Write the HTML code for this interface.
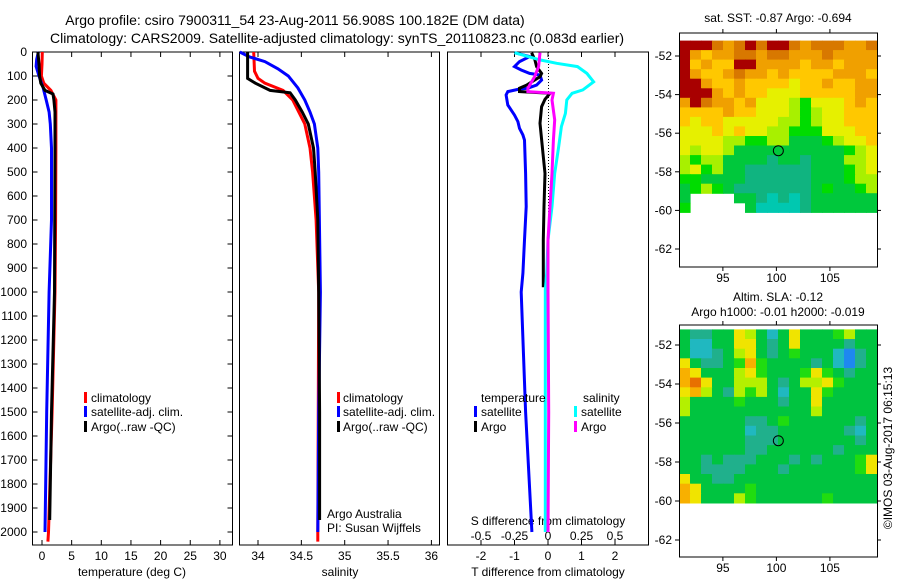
<!DOCTYPE html>
<html><head><meta charset="utf-8">
<style>
html,body{margin:0;padding:0;background:#fff;}
svg{display:block;font-family:"Liberation Sans",sans-serif;}
text{font-size:12px;fill:#000;}
</style></head>
<body>
<svg id="chart" width="900" height="580" viewBox="0 0 900 580" xmlns="http://www.w3.org/2000/svg">
<text x="295" y="25" text-anchor="middle" style="font-size:14px">Argo profile: csiro 7900311_54 23-Aug-2011 56.908S 100.182E (DM data)</text>
<text x="337" y="43" text-anchor="middle" style="font-size:14px">Climatology: CARS2009. Satellite-adjusted climatology: synTS_20110823.nc (0.083d earlier)</text>
<g id="layer"></g>
</svg>
<script>
// ---------- data ----------
const tClimDepth = [0,50,100,130,160,200,400,700,1000,1500,2000,2040];
const tClimVal   = [0.05,0.0,-0.1,0.3,1.5,2.35,2.35,2.3,2.2,1.7,1.1,1.0];
const tSatDepth  = [0,30,60,100,150,200,250,300,400,700,1000,1500,2000];
const tSatVal    = [-0.6,-0.9,-1.0,-0.5,0.2,0.7,1.2,1.4,1.6,1.6,1.2,0.8,0.5];
const tArgoDepth = [0,50,100,130,160,175,200,250,400,1000,1500,1950];
const tArgoVal   = [-0.69,-0.5,-0.4,-0.2,0.5,1.85,2.0,2.2,2.2,2.1,1.6,1.3];

const sClimDepth = [0,80,110,130,160,200,300,400,500,700,1000,2000,2040];
const sClimVal   = [33.95,33.96,34.0,34.08,34.29,34.4,34.54,34.6,34.63,34.67,34.7,34.69,34.69];
const sSatDepth  = [0,20,40,70,100,150,200,250,300,400,500,1000,1500,2000];
const sSatVal    = [33.79,33.9,34.08,34.23,34.35,34.46,34.54,34.6,34.65,34.69,34.70,34.72,34.70,34.69];
const sArgoDepth = [0,110,130,160,170,200,250,300,400,500,700,1000,1500,1950];
const sArgoVal   = [33.88,33.88,33.97,34.14,34.37,34.43,34.51,34.58,34.64,34.66,34.69,34.70,34.71,34.71];

const dTSatDepth = [3,19,40,61,75,89,96,117,138,151,156,165,179,221,263,290,318,346,367,506,644,783,922,1000,1500,2000];
const dTSatVal   = [-1.0,-0.55,-0.85,-1.0,-0.8,-0.55,-0.24,-0.19,-0.34,-0.6,-0.9,-1.2,-1.25,-1.2,-1.0,-0.9,-0.85,-0.75,-0.7,-0.67,-0.65,-0.7,-0.75,-0.8,-0.67,-0.48];
const dTArgoDepth = [3,33,61,89,103,138,151,165,172,197,228,297,436,506,644,783,980];
const dTArgoVal   = [-0.49,-0.39,-0.34,-0.19,-0.24,-0.64,-0.85,-0.85,0.06,-0.09,-0.19,-0.24,-0.14,-0.09,-0.12,-0.14,-0.14];
const dSSatDepth = [3,33,47,61,89,124,158,172,200,256,311,394,506,644,783,922,992,1500,2000];
const dSSatVal   = [-0.25,-0.06,0.065,0.22,0.29,0.34,0.26,0.18,0.14,0.13,0.10,0.08,0.05,0.03,0.0,-0.01,-0.02,-0.02,-0.02];
const dSArgoDepth = [3,61,103,151,165,172,200,283,367,506,644,783,992,1500,2000];
const dSArgoVal   = [-0.06,-0.07,-0.1,-0.15,-0.15,0.04,0.03,0.05,0.04,0.03,0.015,0.0,0.0,0.005,0.0];

const depthTicks = [0,100,200,300,400,500,600,700,800,900,1000,1100,1200,1300,1400,1500,1600,1700,1800,1900,2000];
const tTicks = [0,5,10,15,20,25,30];
const sTicks = [34,34.5,35,35.5,36];
const sTickLabels = ["34","34.5","35","35.5","36"];
const dTTicks = [-2,-1,0,1,2];
const dSTicks = [-0.5,-0.25,0,0.25,0.5];
const dSTickLabels = ["-0.5","-0.25","0","0.25","0.5"];

// maps: lon 91..109 (18 cols), lat -51.2..-60.1 (18 rows)
const sstRows = [
"999878989987888778","976778878877787777","967669977776776777","976678776766667776",
"997667666656676677","999767665556666677","798776755543555676","666676655543455666",
"656655555443455666","555656554433355566","555544334422234556","545542222222222345",
"434422221221222445","453422111111222345","332222111111222344","234321111111232234",
"2----22101012222223","3-----200001222222"];
const slaRows = [
"322336531363334533","311336632363333233","311235632343331023","632234743333231023",
"763335643334643233","786335553235564333","675325453133643333","533334333233633333",
"533333333333533333","333333223433333323","333333122333333213","333333222333333323",
"333333223333332333","332322233323233346","332222333233333346","633223333333333333",
"763333433333333333","763335433333343333"];
const mapLonTicks = [95,100,105];
const mapLatTicks = [-52,-54,-56,-58,-60,-62];
const argoLon = 100.182, argoLat = -56.908;

// ---------- helpers ----------
const NS = "http://www.w3.org/2000/svg";
const layer = document.getElementById('layer');
function mk(tag, attrs, parent){
  const e = document.createElementNS(NS, tag);
  for (const k in attrs) e.setAttribute(k, attrs[k]);
  (parent||layer).appendChild(e);
  return e;
}
const yD = d => 52 + d*0.24;
const xT = t => 42 + t*5.93;
const xS = s => 258 + (s-34)*86.7;
const xDT = v => 548 + v*33.5;
const xDS = v => 548 + v*134;

function line(depths, vals, xf, color, name){
  const pts = depths.map((d,i)=> xf(vals[i]).toFixed(1)+','+yD(d).toFixed(1)).join(' ');
  const p = mk('polyline',{points:pts, fill:'none', stroke:color, 'stroke-width':3, 'stroke-linejoin':'miter'});
  
  
}
function txt(x,y,s,anchor,name,size){
  const t = mk('text',{x:x,y:y,'text-anchor':anchor||'start'});
  if(size) t.style.fontSize = size+'px';
  t.textContent = s;
  
  
  return t;
}
function rect(x,y,w,h,fill,name){
  const r = mk('rect',{x:x,y:y,width:w,height:h,fill:fill});
  
  
  return r;
}
function frame(x0,y0,x1,y1,name){
  const r = mk('rect',{x:x0,y:y0,width:x1-x0,height:y1-y0,fill:'none',stroke:'#000','stroke-width':1});
  
  
}
function tick(x1,y1,x2,y2){
  const l = mk('line',{x1:x1,y1:y1,x2:x2,y2:y2,stroke:'#000','stroke-width':1});
  
  
}
const TOP=52, BOT=545;

// ---------- panel 1: temperature ----------
frame(32.5,TOP,232.5,BOT,'temperature-panel');
depthTicks.forEach(d=>{
  tick(32.5,yD(d),37.5,yD(d)); tick(227.5,yD(d),232.5,yD(d));
  txt(27,yD(d)+4,String(d),'end','depth-tick-label');
});
tTicks.forEach(t=>{
  tick(xT(t),TOP,xT(t),TOP+5); tick(xT(t),BOT,xT(t),BOT-5);
  txt(xT(t),560,String(t),'middle','temperature-tick-label');
});
txt(132,576,'temperature (deg C)','middle','temperature-axis-title');
line(tClimDepth,tClimVal,xT,'#ff0000','temp-climatology-line');
line(tSatDepth,tSatVal,xT,'#0000ff','temp-satellite-line');
line(tArgoDepth,tArgoVal,xT,'#000000','temp-argo-line');
[['#ff0000','climatology',402],['#0000ff','satellite-adj. clim.',416],['#000000','Argo(..raw -QC)',431]].forEach(l=>{
  rect(84,l[2]-10,3,11,l[0],'legend-swatch');
  txt(91,l[2],l[1],'start','legend-entry');
});

// ---------- panel 2: salinity ----------
frame(239.5,TOP,439.5,BOT,'salinity-panel');
sTicks.forEach((s,i)=>{
  tick(xS(s),TOP,xS(s),TOP+5); tick(xS(s),BOT,xS(s),BOT-5);
  txt(xS(s),560,sTickLabels[i],'middle','salinity-tick-label');
});
txt(340,576,'salinity','middle','salinity-axis-title');
line(sClimDepth,sClimVal,xS,'#ff0000','sal-climatology-line');
line(sSatDepth,sSatVal,xS,'#0000ff','sal-satellite-line');
line(sArgoDepth,sArgoVal,xS,'#000000','sal-argo-line');
[['#ff0000','climatology',402],['#0000ff','satellite-adj. clim.',416],['#000000','Argo(..raw -QC)',431]].forEach(l=>{
  rect(337,l[2]-10,3,11,l[0],'legend-swatch');
  txt(343,l[2],l[1],'start','legend-entry');
});
txt(327,518,'Argo Australia','start','credit-argo-australia');
txt(327,532,'PI: Susan Wijffels','start','credit-pi');

// ---------- panel 3: differences ----------
frame(447.5,TOP,648.5,BOT,'difference-panel');
dTTicks.forEach(v=>{
  tick(xDT(v),TOP,xDT(v),TOP+5); tick(xDT(v),BOT,xDT(v),BOT-5);
  txt(xDT(v),560,String(v),'middle','t-diff-tick-label');
});
dSTicks.forEach((v,i)=> txt(xDS(v),540,dSTickLabels[i],'middle','s-diff-tick-label'));
txt(548,576,'T difference from climatology','middle','t-diff-axis-title');
txt(548,525,'S difference from climatology','middle','s-diff-axis-title');
{const z = mk('line',{x1:548.5,y1:TOP,x2:548.5,y2:340,stroke:'#000','stroke-width':1,'stroke-dasharray':'1,2'});
  }
line(dTSatDepth,dTSatVal,xDT,'#0000ff','t-diff-satellite-line');
line(dTArgoDepth,dTArgoVal,xDT,'#000000','t-diff-argo-line');
line(dSSatDepth,dSSatVal,xDS,'#00ffff','s-diff-satellite-line');
line(dSArgoDepth,dSArgoVal,xDS,'#ff00ff','s-diff-argo-line');
txt(481,402,'temperature','start','legend-header-temperature');
txt(583,402,'salinity','start','legend-header-salinity');
[['#0000ff','satellite',474,416],['#000000','Argo',474,431],['#00ffff','satellite',574,416],['#ff00ff','Argo',574,431]].forEach(l=>{
  rect(l[2],l[3]-10,3,11,l[0],'legend-swatch');
  txt(l[2]+7,l[3],l[1],'start','legend-entry');
});

// ---------- maps ----------
const sstPal = {'0':'#00c8b0','1':'#10b480','2':'#00c83c','3':'#00dc00','4':'#a8f000','5':'#e6f000','6':'#ffc800','7':'#f0a000','8':'#d87800','9':'#a80000'};
const slaPal = {'0':'#1e88f0','1':'#20b8c0','2':'#20b08c','3':'#00c440','4':'#20dc10','5':'#b4f000','6':'#f0e400','7':'#f8b000','8':'#e87000'};
const LON0=90.9, LON1=109.4, MX0=679, MX1=877;
const xLon = lon => MX0 + (lon-LON0)*(MX1-MX0)/(LON1-LON0);
function drawMap(rows, pal, yLat, top, bottom, name){
  const dataTop = -51.2, dataBot = -60.1;
  const nR = rows.length, nC = rows[0].length;
  const dLat = (dataTop-dataBot)/nR, dLon = (LON1-LON0)/nC;
  rows.forEach((row,r)=>{
    for(let c=0;c<nC;c++){
      const ch=row[c]; if(ch==='-') continue;
      const x0=xLon(LON0+c*dLon), x1=xLon(LON0+(c+1)*dLon);
      const y0=yLat(dataTop-r*dLat), y1=yLat(dataTop-(r+1)*dLat);
      const cell = mk('rect',{x:x0.toFixed(1),y:y0.toFixed(1),width:(x1-x0+0.6).toFixed(1),height:(y1-y0+0.6).toFixed(1),fill:pal[ch]});
      
      
    }
  });
  frame(MX0+0.5,top,MX1+0.5,bottom,name+'-frame');
  mapLatTicks.forEach(lat=>{
    const y=yLat(lat);
    tick(MX0-4,y,MX0,y); tick(MX1,y,MX1+4,y);
    txt(672,y+4,String(lat),'end',name+'-lat-label');
  });
  mapLonTicks.forEach(lon=>{
    const x=xLon(lon);
    tick(x,top-4,x,top); tick(x,bottom,x,bottom+4);
    txt(x,bottom+15,String(lon),'middle',name+'-lon-label');
  });
  const cc = mk('circle',{cx:xLon(argoLon),cy:yLat(argoLat),r:5,fill:'none',stroke:'#000','stroke-width':1});
  
  
}
const ySST = lat => 56 + (-52-lat)*19.3;
const ySLA = lat => 345 + (-52-lat)*19.5;
drawMap(sstRows, sstPal, ySST, 33, 267, 'sst-map');
drawMap(slaRows, slaPal, ySLA, 325, 557, 'sla-map');
txt(778,22,'sat. SST: -0.87 Argo: -0.694','middle','sst-map-title');
txt(778,301,'Altim. SLA: -0.12','middle','sla-map-title');
txt(778,316,'Argo h1000: -0.01 h2000: -0.019','middle','sla-map-subtitle');
const cr = txt(0,0,'©IMOS 03-Aug-2017 06:15:13','middle','imos-credit');
cr.setAttribute('transform','translate(892,448) rotate(-90)');
</script>
</body></html>
